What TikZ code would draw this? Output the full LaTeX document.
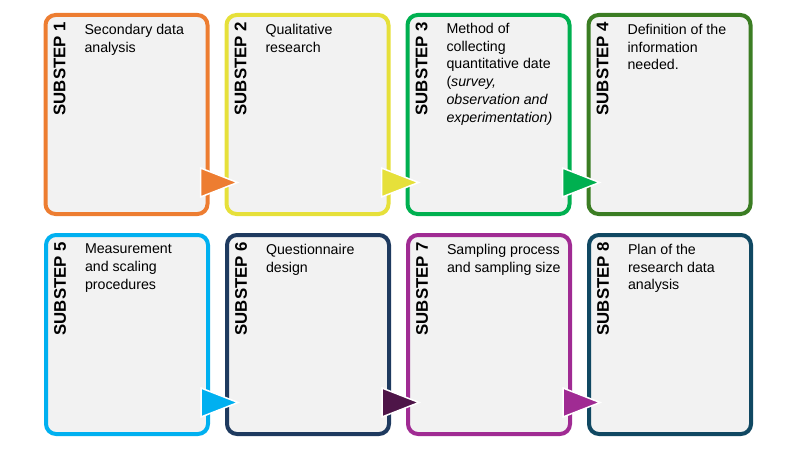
\documentclass[tikz,border=0pt]{standalone}
\usepackage{fontspec}
\setmainfont{Liberation Sans}
\usetikzlibrary{positioning}
\definecolor{boxgray}{HTML}{F2F2F2}
\definecolor{sorange}{HTML}{ED7D31}
\definecolor{syellow}{HTML}{E6E03A}
\definecolor{sgreen}{HTML}{00B050}
\definecolor{sdkgreen}{HTML}{3B7D23}
\definecolor{sblue}{HTML}{00B0F0}
\definecolor{snavy}{HTML}{1E3A5F}
\definecolor{splum}{HTML}{4E1548}
\definecolor{spurple}{HTML}{A02B93}
\definecolor{steal}{HTML}{104862}

\begin{document}
\begin{tikzpicture}[x=1pt, y=-1pt, line width=4pt,
    stepbox/.style={draw, fill=boxgray, rounded corners=10pt, minimum width=162pt, minimum height=199pt, inner sep=0pt},
    steplabel/.style={rotate=90, anchor=east, inner sep=0pt, font=\bfseries\fontsize{16.8}{16.8}\selectfont},
    steptext/.style={anchor=north west, align=left, inner sep=0pt, font=\fontsize{14.2}{17.8}\selectfont},
    tip/.style={draw=white, line width=1.5pt}]
    \useasboundingbox (0,0) rectangle (799,449);
    \node [stepbox,draw=sorange]  (b1) at (126.5,114.5) {};
    \node [stepbox,draw=syellow]  (b2) [right=15pt of b1] {};
    \node [stepbox,draw=sgreen]   (b3) [right=15pt of b2] {};
    \node [stepbox,draw=sdkgreen] (b4) [right=15pt of b3] {};
    \node [stepbox,draw=sblue]    (b5) at (127,334.5) {};
    \node [stepbox,draw=snavy]    (b6) [right=15pt of b5] {};
    \node [stepbox,draw=spurple]  (b7) [right=15pt of b6] {};
    \node [stepbox,draw=steal]    (b8) [right=15pt of b7] {};
    \foreach \i in {1,...,8}
        \node [steplabel] (l\i) at ([xshift=16pt,yshift=-7pt]b\i.north west) {SUBSTEP \i};
    \node [steptext] (s1) at ([xshift=39pt,yshift=-9pt]b1.north west) {Secondary data\\analysis};
    \node [steptext] (s2) at ([xshift=39pt,yshift=-9pt]b2.north west) {Qualitative\\research};
    \node [steptext] (s3) at ([xshift=39pt,yshift=-8pt]b3.north west) {Method of\\collecting\\quantitative date\\(\textit{survey,}\\\textit{observation and}\\\textit{experimentation)}};
    \node [steptext] (s4) at ([xshift=39pt,yshift=-9pt]b4.north west) {Definition of the\\information\\needed.};
    \node [steptext] (s5) at ([xshift=39pt,yshift=-9pt]b5.north west) {Measurement\\and scaling\\procedures};
    \node [steptext] (s6) at ([xshift=39pt,yshift=-9pt]b6.north west) {Questionnaire\\design};
    \node [steptext] (s7) at ([xshift=39pt,yshift=-9pt]b7.north west) {Sampling process\\and sampling size};
    \node [steptext] (s8) at ([xshift=39pt,yshift=-9pt]b8.north west) {Plan of the\\research data\\analysis};
    % arrow heads between the boxes
    \foreach \i/\c in {1/sorange,2/syellow,3/sgreen,5/sblue,6/splum,7/spurple} {
        \coordinate (t\i) at ([xshift=-9pt,yshift=-68pt]b\i.east);
        \filldraw [tip,fill=\c] (t\i) -- ++(0,-14.5) -- ++(37,14.5) -- ++(-37,14.5) -- cycle;
    }
\end{tikzpicture}
\end{document}
